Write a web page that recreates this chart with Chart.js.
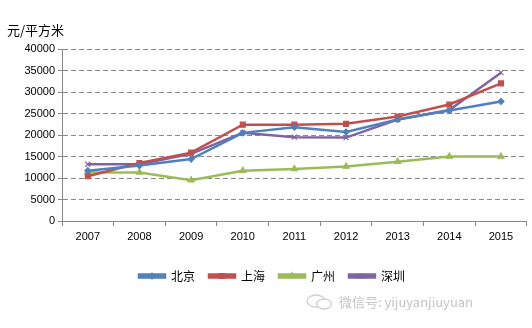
<!DOCTYPE html>
<html>
<head>
<meta charset="utf-8">
<script src="https://cdn.jsdelivr.net/npm/chart.js@4/dist/chart.umd.min.js"></script>
<style>
  html, body { margin: 0; padding: 0; background: #fff; }
  #wrap { position: relative; width: 532px; height: 328px; }
  #unit { position: absolute; left: 7px; top: 20px; font: 13px "Noto Sans CJK SC", sans-serif; color: #000; }
  #mark { position: absolute; left: 306px; top: 292px; color: #c4c4c4; font: 13px "Noto Sans CJK SC", sans-serif; display: flex; align-items: center; }
  #mark svg { margin-right: 5px; }
</style>
</head>
<body>
<div id="wrap">
  <canvas id="priceChart" width="532" height="328"></canvas>
  <div id="unit">元/平方米</div>
  <div id="mark">
    <svg width="28" height="16" viewBox="0 0 28 16">
      <ellipse cx="10" cy="7" rx="9" ry="6" fill="none" stroke="#cfcfcf" stroke-width="1.3"/>
      <ellipse cx="18" cy="10" rx="7.5" ry="5" fill="#fff" stroke="#cfcfcf" stroke-width="1.3"/>
    </svg>
    <span>微信号: yijuyanjiuyuan</span>
  </div>
</div>
<script>
const years = ['2007', '2008', '2009', '2010', '2011', '2012', '2013', '2014', '2015'];
const beijing   = [11700, 12900, 14400, 20500, 21800, 20700, 23600, 25700, 27800];
const shanghai  = [10400, 13500, 15900, 22400, 22400, 22600, 24300, 27100, 32000];
const guangzhou = [11300, 11300, 9500, 11700, 12100, 12700, 13800, 15000, 15000];
const shenzhen  = [13200, 13200, 15600, 20500, 19500, 19400, 23600, 25800, 34500];

function series(label, data, color, style, radius) {
    return {
        label: label,
        data: data,
        borderColor: color,
        backgroundColor: color,
        borderWidth: 2.5,
        pointStyle: style,
        pointRadius: radius,
        pointBorderWidth: 1.2,
        tension: 0
    };
}

// draw the point marker on top of each legend line
const legendMarkers = {
    id: 'legendMarkers',
    afterDraw(chart) {
        const legend = chart.legend;
        if (!legend || !legend.legendHitBoxes) return;
        const ctx = chart.ctx;
        const bw = legend.options.labels.boxWidth;
        legend.legendHitBoxes.forEach((box, i) => {
            const ds = chart.data.datasets[i];
            ctx.save();
            ctx.fillStyle = ds.backgroundColor;
            ctx.strokeStyle = ds.borderColor;
            ctx.lineWidth = 1.2;
            Chart.helpers.drawPoint(ctx, {
                pointStyle: ds.pointStyle,
                radius: ds.pointRadius,
                borderWidth: 1.2,
                rotation: 0
            }, box.left + bw / 2, box.top + box.height / 2);
            ctx.restore();
        });
    }
};

const ctx = document.getElementById('priceChart').getContext('2d');
window.myChart = new Chart(ctx, {
    type: 'line',
    data: {
        labels: years,
        datasets: [
            series('北京', beijing, '#4F81BD', 'rectRot', 3),
            series('上海', shanghai, '#C0504D', 'rect', 3.5),
            series('广州', guangzhou, '#9BBB59', 'triangle', 3.5),
            series('深圳', shenzhen, '#8064A2', 'crossRot', 3.5)
        ]
    },
    options: {
        responsive: false,
        animation: false,
        layout: { padding: { left: 14, right: 2, top: 49, bottom: 36 } },
        plugins: {
            tooltip: { enabled: false },
            legend: {
                position: 'bottom',
                labels: {
                    boxWidth: 26,
                    boxHeight: 3,
                    padding: 14,
                    color: '#000',
                    font: { family: '"Noto Sans CJK SC", sans-serif', size: 12 }
                }
            }
        },
        scales: {
            x: {
                offset: true,
                grid: {
                    offset: true,
                    drawOnChartArea: false,
                    tickLength: 5,
                    color: '#888'
                },
                border: { color: '#888', width: 1 },
                ticks: {
                    color: '#000',
                    padding: 4,
                    maxRotation: 0,
                    font: { family: '"Liberation Sans", Arial, sans-serif', size: 11 }
                },
                afterFit(scale) { scale.height = 35; }
            },
            y: {
                min: 0,
                max: 40000,
                ticks: {
                    stepSize: 5000,
                    color: '#000',
                    padding: 3,
                    font: { family: '"Liberation Sans", Arial, sans-serif', size: 11 },
                    callback: v => String(v)
                },
                grid: {
                    color: '#888',
                    tickBorderDash: [],
                    tickLength: 4
                },
                border: { color: '#888', width: 1, dash: [5, 3] },
                afterFit(scale) { scale.width = 48; }
            }
        }
    },
    plugins: [legendMarkers]
});
</script>
</body>
</html>
